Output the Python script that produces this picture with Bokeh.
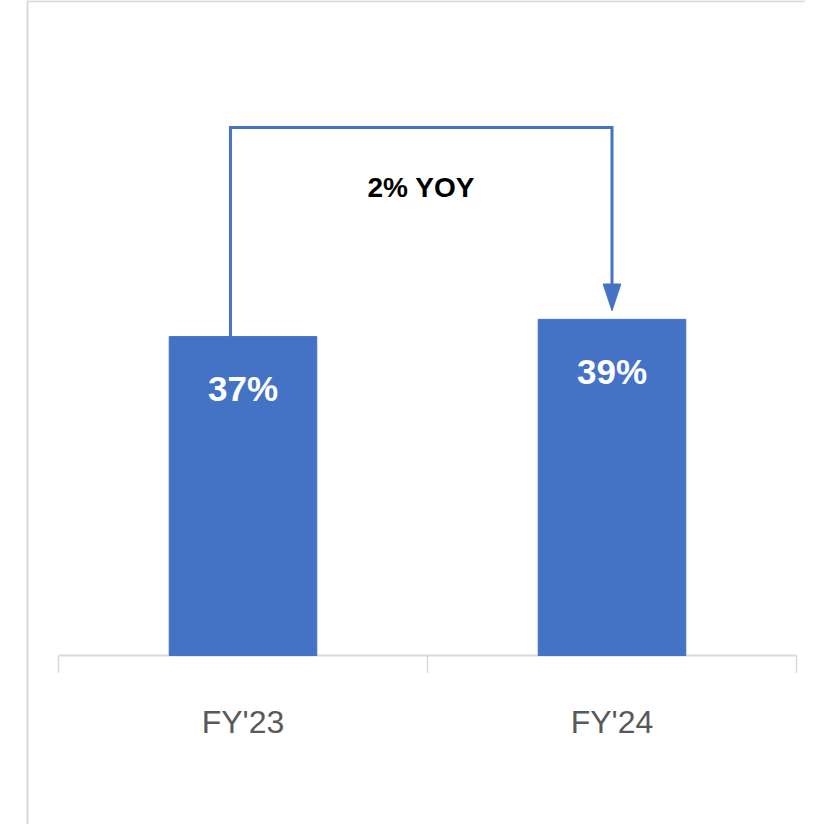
from bokeh.plotting import figure
from bokeh.models import Range1d, FixedTicker
from bokeh.core.properties import value
from bokeh.embed import file_html
from bokeh.resources import INLINE

# ---- data ----
categories = ["FY'23", "FY'24"]
values = [37, 39]
bar_labels = ["37%", "39%"]
yoy_label = "2% YOY"

# ---- style ----
BLUE = "#4472C4"
GRID_GRAY = "#d9d9d9"
LABEL_GRAY = "#595959"
FONT = "Liberation Sans"
BAR_WIDTH = 0.4
ANNOT_LEVEL = 61.25        # height of connector top (data units)
START_DX = -0.034          # connector start offset from first bar centre
TIP_GAP = 1.0              # gap between arrow tip and second bar top
HEAD_LEN = 3.1             # arrow head length (data units)
HEAD_HALF_W = 0.024        # arrow head half width (category units)
X0, X1 = -0.1572, 2.0244
Y0, Y1 = -19.6, 75.99
BORDER_X = -0.084

x_pos = [i + 0.5 for i in range(len(categories))]

p = figure(width=805, height=824,
           x_range=Range1d(X0, X1), y_range=Range1d(Y0, Y1),
           output_backend="svg", toolbar_location=None,
           min_border=0)
p.yaxis.visible = False
p.grid.visible = False
p.outline_line_color = None
p.background_fill_color = "white"
p.border_fill_color = "white"

# x axis labels drawn at the baseline
xa = p.xaxis[0]
xa.fixed_location = 0
xa.ticker = FixedTicker(ticks=x_pos)
xa.major_label_overrides = {x: c for x, c in zip(x_pos, categories)}
xa.axis_line_color = None
xa.major_tick_line_color = None
xa.minor_tick_line_color = None
xa.major_tick_in = 0
xa.major_tick_out = 0
xa.major_label_standoff = 48
xa.major_label_text_font = FONT
xa.major_label_text_font_size = "32px"
xa.major_label_text_color = LABEL_GRAY

# chart-area border (left / top)
p.segment(x0=[BORDER_X], y0=[Y0], x1=[BORDER_X], y1=[Y1], line_color=GRID_GRAY, line_width=2)
p.segment(x0=[BORDER_X], y0=[Y1 - 0.1], x1=[X1], y1=[Y1 - 0.1], line_color=GRID_GRAY, line_width=2)

# axis baseline + boundary ticks
n = len(categories)
p.segment(x0=[0], y0=[0], x1=[n], y1=[0], line_color=GRID_GRAY, line_width=2)
p.segment(x0=list(range(n + 1)), y0=[0] * (n + 1), x1=list(range(n + 1)),
          y1=[-2.0] * (n + 1), line_color=GRID_GRAY, line_width=1.5)

# bars
p.vbar(x=x_pos, top=values, bottom=0, width=BAR_WIDTH, fill_color=BLUE,
       line_color=BLUE)

# bar labels
p.text(x=x_pos, y=values, text=bar_labels, text_color="white",
       text_font=value(FONT), text_font_style="bold", text_font_size="35px",
       text_align="center", text_baseline="middle", y_offset=52)

# connector
x0c = x_pos[0] + START_DX
x1c = x_pos[1]
tip = values[1] + TIP_GAP
p.line(x=[x0c, x0c, x1c, x1c], y=[values[0], ANNOT_LEVEL, ANNOT_LEVEL, tip + HEAD_LEN],
       line_color=BLUE, line_width=3, line_join="miter")
p.patch(x=[x1c - HEAD_HALF_W, x1c + HEAD_HALF_W, x1c],
        y=[tip + HEAD_LEN, tip + HEAD_LEN, tip], fill_color=BLUE, line_color=BLUE)

# YoY label
p.text(x=[(x0c + x1c) / 2], y=[ANNOT_LEVEL], text=[yoy_label], text_color="black",
       text_font=value(FONT), text_font_style="bold", text_font_size="28px",
       text_align="center", text_baseline="middle", y_offset=60)

open("out.html", "w").write(file_html(p, INLINE))
